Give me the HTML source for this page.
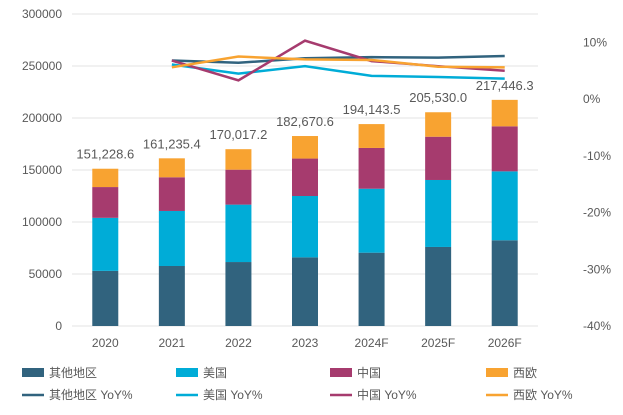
<!DOCTYPE html>
<html><head><meta charset="utf-8">
<style>
body{margin:0;background:#fff;}
svg{display:block;font-family:"Liberation Sans","Noto Sans CJK SC",sans-serif;}
text{fill:#595959;}
</style></head>
<body>
<svg id="chart" width="623" height="415"></svg>
<script>
const categories=["2020","2021","2022","2023","2024F","2025F","2026F"];
const other=[53000,57700,61500,66000,70500,76000,82400];
const usa=[51000,52900,55200,59000,61500,64400,66300];
const china=[29600,32400,33600,36000,39200,41600,43300];
const totals=[151228.6,161235.4,170017.2,182670.6,194143.5,205530.0,217446.3];
const totalLabels=["151,228.6","161,235.4","170,017.2","182,670.6","194,143.5","205,530.0","217,446.3"];
const otherYoY=[null,6.8,6.4,7.2,7.4,7.3,7.6];
const usaYoY=[null,6.1,4.5,5.8,4.1,3.9,3.6];
const chinaYoY=[null,6.8,3.3,10.3,6.7,5.8,5.0];
const euYoY=[null,5.6,7.5,7.0,6.9,5.7,5.6];
const leftTicks=[0,50000,100000,150000,200000,250000,300000];
const rightTicks=[-40,-30,-20,-10,0,10];

const svg=document.getElementById('chart');
const NS='http://www.w3.org/2000/svg';
function mk(tag,attrs,parent){const e=document.createElementNS(NS,tag);for(const k in attrs)e.setAttribute(k,attrs[k]);(parent||svg).appendChild(e);return e;}
const x0=72,x1=538,yTop=14,yBot=326;
const yL=v=>yBot-(v/300000)*(yBot-yTop);
const yR=p=>yBot-((p+40)/55)*(yBot-yTop);
const step=(x1-x0)/categories.length;
const xC=i=>x0+step*(i+0.5);
const C={other:"#31637e",usa:"#00acd7",china:"#a63b6e",eu:"#f8a331"};

leftTicks.forEach(t=>{
  const g=mk('line',{x1:x0,x2:x1,y1:yL(t),y2:yL(t),stroke:"#e3e3e3","stroke-width":1});
  
  const tx=mk('text',{x:62,y:yL(t)+4,"text-anchor":"end","font-size":12});
  tx.textContent=t;
});
rightTicks.forEach(t=>{
  const tx=mk('text',{x:583,y:yR(t)+4,"text-anchor":"start","font-size":12});
  tx.textContent=t+"%";
});
const bw=26;
categories.forEach((c,i)=>{
  const segs=[[0,other[i],C.other,'bar-other'],[other[i],other[i]+usa[i],C.usa,'bar-usa'],[other[i]+usa[i],other[i]+usa[i]+china[i],C.china,'bar-china'],[other[i]+usa[i]+china[i],totals[i],C.eu,'bar-europe']];
  segs.forEach(s=>{
    const r=mk('rect',{x:xC(i)-bw/2,y:yL(s[1]),width:bw,height:yL(s[0])-yL(s[1]),fill:s[2]});
    
  });
  const tl=mk('text',{x:xC(i),y:yL(totals[i])-10,"text-anchor":"middle","font-size":13});
  tl.textContent=totalLabels[i];
  const xl=mk('text',{x:xC(i),y:347,"text-anchor":"middle","font-size":12});
  xl.textContent=c;
});
function line(arr,col,name){
  const pts=[];arr.forEach((v,i)=>{if(v!==null)pts.push(xC(i)+","+yR(v));});
  const p=mk('polyline',{points:pts.join(" "),fill:"none",stroke:col,"stroke-width":2.5});
  
}
line(otherYoY,C.other,'line-other-yoy');
line(usaYoY,C.usa,'line-usa-yoy');
line(chinaYoY,C.china,'line-china-yoy');
line(euYoY,C.eu,'line-europe-yoy');

const leg=[["其他地区",C.other,0],["美国",C.usa,0],["中国",C.china,0],["西欧",C.eu,0],["其他地区 YoY%",C.other,1],["美国 YoY%",C.usa,1],["中国 YoY%",C.china,1],["西欧 YoY%",C.eu,1]];
const lx=[22,176,330,486];
leg.forEach((l,k)=>{
  const col=k%4,row=Math.floor(k/4);const y=row?395:373;
  let sw;
  if(row===0) sw=mk('rect',{x:lx[col],y:y-5,width:22,height:9,fill:l[1]});
  else sw=mk('line',{x1:lx[col],x2:lx[col]+22,y1:y,y2:y,stroke:l[1],"stroke-width":2.5});
  
  const t=mk('text',{x:lx[col]+27,y:y+4,"font-size":12});
  t.textContent=l[0];
});
</script>
</body></html>
